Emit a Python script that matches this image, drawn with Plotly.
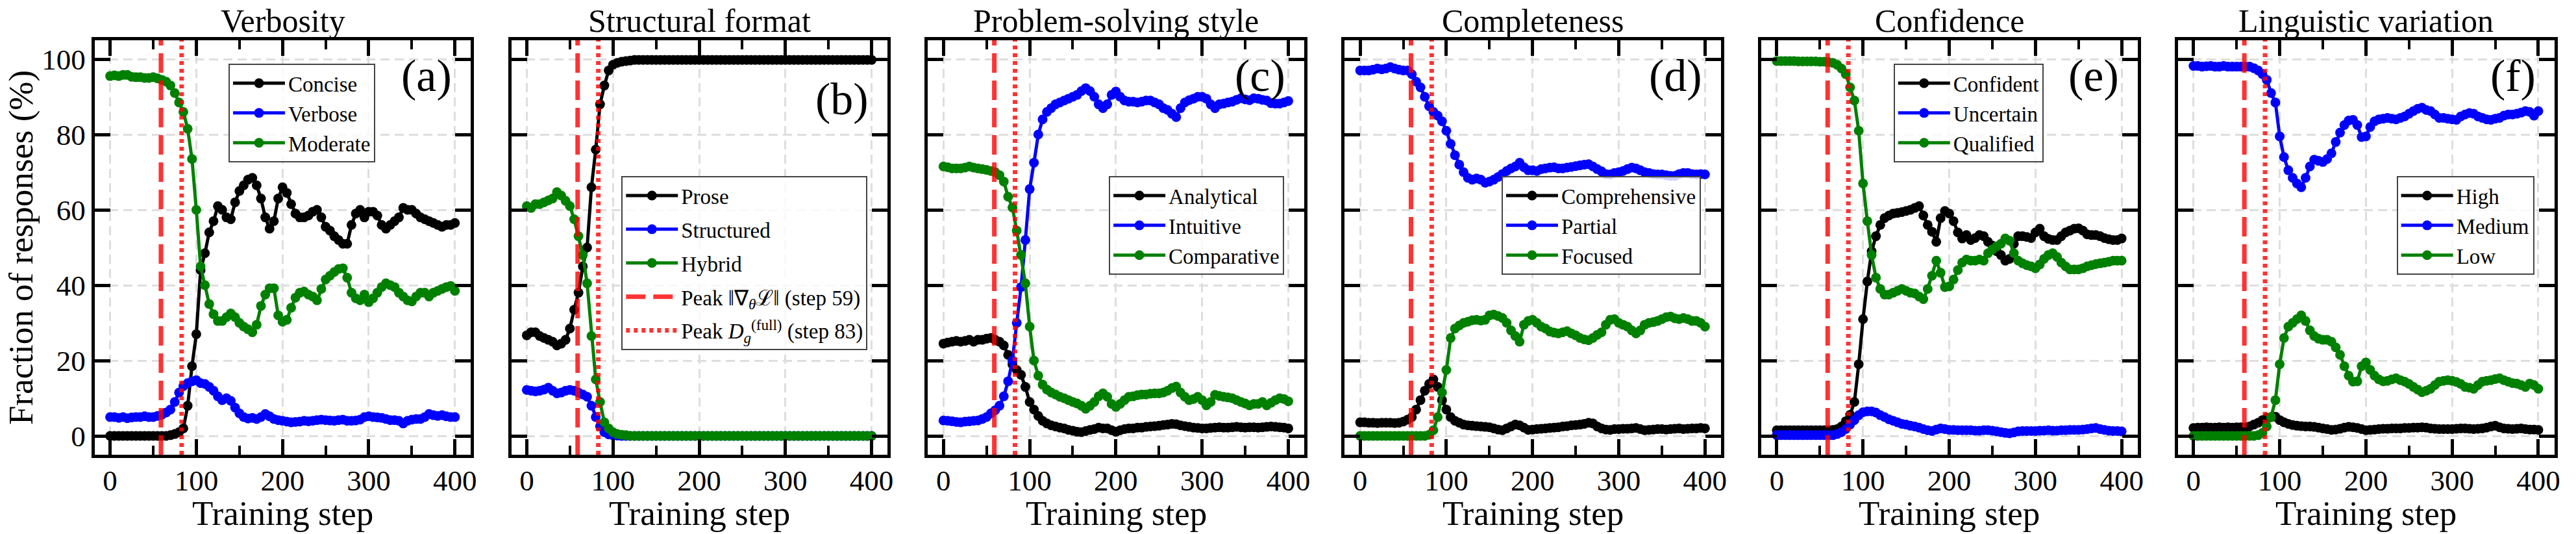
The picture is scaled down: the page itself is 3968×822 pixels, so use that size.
import plotly.graph_objects as go

# ---------------- data ----------------
STEPS = list(range(0, 401, 5))

# (a) Verbosity
CONCISE = [0, 0, 0, 0, 0, 0, 0, 0, 0, 0,
           0, 0, 0, 0, 0.2, 0.5, 1, 2, 8, 18.5,
           27, 44, 48.5, 54, 57, 61, 60, 58, 57.5, 62,
           65, 66.5, 68, 68.5, 66.5, 63, 58, 55, 57, 63,
           66, 64.5, 61.5, 59, 58, 58, 58.5, 59.5, 60, 58,
           55.5, 54.5, 53, 52, 51, 51, 56, 59, 60, 58,
           59.5, 59.5, 58.5, 56, 55, 56, 57, 58, 60.5, 60,
           60, 59, 58, 57.5, 57, 56.5, 56, 55.5, 56, 56,
           56.5]
VERBOSE = [5, 5, 4.8, 5, 4.7, 4.9, 5, 5, 5.2, 5,
           5, 5.3, 5.6, 6.2, 7, 9, 11.5, 13.2, 14, 14.5,
           14.8, 14, 13.8, 13, 12, 10.5, 9.5, 10, 9.3, 7.5,
           6, 5, 4.6, 4.8, 4.5, 5, 5.8, 5.2, 4.5, 4.2,
           4, 3.8, 3.6, 3.7, 3.8, 4, 3.9, 4, 4.2, 4.3,
           4.2, 4.1, 4, 4.2, 4.3, 4, 4, 4.1, 4.3, 5,
           5.2, 5, 4.9, 4.8, 4.5, 4.2, 4.2, 4, 3.3, 4,
           4.3, 4.5, 4.5, 5, 5.8, 5.5, 5.3, 5.5, 5.2, 5,
           5]
MODERATE = [95.5, 95.7, 95.5, 95.8, 95.8, 95.3, 95.2, 95.2, 95, 95,
            95.2, 94.9, 94.5, 94, 93, 91, 88.5, 86, 81.5, 73.5,
            60, 45, 40, 35, 32.3, 30.5, 30.5, 31.5, 32.5, 31.5,
            30, 29, 28.3, 27.5, 29.5, 34.5, 37.5, 39.2, 39.2, 32,
            30.3, 30.8, 34, 36.7, 38, 38.3, 37.5, 37, 36, 39,
            41.5, 42.5, 43.5, 44.3, 44.5, 42, 38, 36.5, 36, 37.5,
            35.5, 36.5, 38, 39.5, 40.5, 40, 39.5, 38, 37, 36,
            35.7, 37, 38, 38, 37, 38, 38.5, 39, 39.5, 39.8,
            38.5]

# (b) Structural format
PROSE = [26.7, 27.5, 27.5, 26.5, 26, 25.5, 25, 24, 24.5, 25.5,
         28.5, 33.5, 38, 45, 50, 66, 76, 88, 93, 97,
         98.5, 99, 99.3, 99.5, 99.6] + [99.8] * 56
STRUCTURED = [12.2, 12, 11.8, 12, 12.3, 12.8, 12, 11.3, 11.5, 12,
              12.2, 12, 11.5, 11, 10.4, 8, 5, 2.5, 1, 0.4,
              0.2, 0.1] + [0] * 59
HYBRID = [61, 60.5, 61.5, 61.5, 62, 62.5, 63, 64.7, 63.8, 62.4,
          61, 57.5, 53, 48, 40.5, 26.5, 15, 9, 3.6, 2,
          1, 0.5, 0.3, 0.2] + [0] * 57

# (c) Problem-solving style
ANALYTICAL = [24.5, 24.8, 25, 25.2, 25, 25.2, 25.5, 25, 25.5, 25.5,
              25.8, 26, 25.5, 25, 24, 21.5, 19, 17.5, 16.2, 13,
              9, 7, 5.3, 4, 3.3, 2.8, 2.5, 2.2, 2, 1.6,
              1.4, 1.1, 1, 1.3, 1.6, 1.8, 2.2, 2, 2, 1.5,
              1.1, 1.5, 1.8, 2, 2, 2.2, 2.2, 2.4, 2.5, 2.6,
              2.7, 2.9, 3, 3.2, 3.1, 2.8, 2.6, 2.4, 2.2, 2.1,
              2, 2, 2.1, 2.2, 2.3, 2.2, 2.2, 2.3, 2.4, 2.3,
              2.2, 2.3, 2.3, 2.2, 2.3, 2.4, 2.5, 2.4, 2.3, 2.2,
              2]
INTUITIVE = [4.1, 4, 3.9, 3.7, 3.6, 3.8, 3.9, 4, 4.1, 4.5,
             5, 6, 6.8, 8, 10.5, 14.5, 20, 30, 39.5, 52,
             65.5, 72.5, 80, 84, 86, 87, 88, 88.5, 89, 89.5,
             90, 90.5, 91.5, 92.3, 91.5, 90, 88, 87, 88, 90.5,
             91.4, 90, 89, 88.7, 88.7, 88.5, 88.7, 89, 89, 88.5,
             88, 87, 86.5, 85.5, 84.6, 87, 88.5, 89.1, 89.5, 90,
             90, 89.5, 88, 87, 88, 88.2, 88.5, 88.7, 89.2, 89.6,
             89.3, 89.1, 89.6, 89.5, 89.2, 89, 88.3, 88.2, 88.2, 88.5,
             88.9]
COMPARATIVE = [71.5, 71.3, 71, 71, 71, 71.2, 71.5, 71.2, 71, 70.8,
               70.6, 70.3, 70, 69.2, 67.5, 63.5, 60.6, 54.5, 48, 40.5,
               29, 20, 16, 13.6, 12.3, 11.5, 11, 10.4, 10, 9.5,
               9, 8.6, 8, 7.2, 8, 9, 10.5, 11.3, 10.4, 8.5,
               7.7, 8.5, 9.5, 10.4, 10.5, 10.8, 11, 11, 11.2, 11.3,
               11.3, 11.5, 12, 12.7, 13.1, 11.5, 10.4, 9.5, 9.8, 10.4,
               9.5, 8.1, 9, 10.9, 10.6, 10.4, 10.2, 10, 9.5, 9,
               8.6, 8.1, 8.5, 8.5, 9, 8.1, 8.8, 9.5, 10, 9.8,
               9.2]

# (d) Completeness
COMPREHENSIVE = [3.6, 3.6, 3.5, 3.5, 3.4, 3.5, 3.5, 3.5, 3.4, 3.5,
                 3.8, 4.3, 5, 7, 9.5, 12, 13.8, 15, 13, 9.5,
                 7, 5, 4, 3.5, 3, 2.8, 2.7, 2.6, 2.5, 2.4,
                 2.3, 2, 1.7, 1.5, 2, 2.5, 3, 2.8, 2.2, 1.6,
                 1.7, 1.8, 1.9, 2, 2.1, 2.2, 2.3, 2.5, 2.6, 2.8,
                 2.9, 3, 3.2, 3.5, 3.3, 2.5, 2, 1.7, 1.6, 1.8,
                 1.8, 1.9, 1.9, 2, 2.1, 1.8, 1.5, 1.6, 1.7, 1.8,
                 1.8, 1.7, 1.8, 1.9, 2, 1.8, 1.9, 2, 2, 2.1,
                 2]
PARTIAL = [97, 97, 97, 97.2, 97.5, 97.3, 97.5, 97.9, 97.5, 97.2,
           97, 97, 96, 94, 92.5, 90, 87.5, 86, 85, 83.5,
           81, 77.5, 74.5, 72, 70, 68.5, 68, 68.3, 68, 67.2,
           67.5, 68, 68.7, 69.5, 70.3, 71, 71.5, 72.5, 71.3, 70.5,
           70.5, 70.3, 70.8, 71, 71.2, 71.3, 71, 71, 71.2, 71.4,
           71.6, 71.8, 72, 72.1, 71.5, 70.8, 70.2, 69.5, 69.4, 69.8,
           70, 70.3, 70.8, 71.2, 71, 70.5, 70, 69.8, 69.5, 69.4,
           69.4, 69.2, 69, 69, 69.5, 69.8, 69.8, 69.5, 69.4, 69.5,
           69.4]
FOCUSED = [0] * 16 + [0.3, 1.5, 5, 11.5,
                      17.5, 26, 28.5, 29.3, 30, 30.3, 30.7, 30.8, 30.6, 30.8,
                      32, 32.2, 31.8, 31.3, 30, 28, 26.5, 25, 29.5, 30.5,
                      30.8, 30, 29, 28.5, 27.7, 27.4, 27.2, 27.5, 27.8, 27.2,
                      26.7, 26, 25.6, 25.4, 26, 26.8, 27.5, 29.5, 30.8, 31,
                      30, 29.5, 29, 28, 27.2, 28, 29.5, 30, 30.2, 30.5,
                      31, 31.5, 31.7, 31.2, 31, 31.3, 31, 30.5, 30.5, 30,
                      29]

# (e) Confidence
CONFIDENT = [1.5] * 13 + [1.6, 1.8, 2.5, 3.9, 5.6, 9, 19,
                          31, 41, 49, 53, 56, 57.8, 58.5, 59, 59.2, 59.4,
                          59.7, 60, 60.5, 61, 58.5, 56, 54.2, 51.5, 57.8, 59.7,
                          59, 57, 54, 52.4, 53.3, 52, 52.5, 53.3, 53, 51.5,
                          50.5, 49, 48, 46.5, 47, 51, 53, 53, 52.8, 52.5,
                          54, 55, 53, 52.3, 52, 52, 53, 54, 54.5, 55,
                          55.1, 54.5, 53.5, 53.3, 53.3, 53, 52.5, 52.2, 52, 52,
                          52.4]
UNCERTAIN = [0.2] * 14 + [0.5, 1, 1.8, 3, 4.2, 5.5,
                          6.3, 6.5, 6.5, 6.2, 5.5, 5, 4.4, 4, 3.6, 3.2,
                          3, 2.7, 2.5, 2.2, 1.8, 1.5, 1.3, 1.7, 2, 1.8,
                          1.6, 1.6, 1.5, 1.5, 1.5, 1.5, 1.4, 1.4, 1.5, 1.5,
                          1.4, 1.2, 1, 0.8, 0.7, 0.9, 1.2, 1.3, 1.3, 1.3,
                          1.3, 1.4, 1.4, 1.5, 1.4, 1.4, 1.5, 1.5, 1.6, 1.6,
                          1.6, 1.7, 1.8, 2, 2.1, 1.8, 1.6, 1.4, 1.3, 1.3,
                          1.2]
QUALIFIED = [99.5, 99.5, 99.5, 99.5, 99.5, 99.4, 99.4, 99.4, 99.4, 99.4,
             99.3, 99.3, 99.2, 99, 98.5, 97.5, 96, 92.5, 89, 81,
             67, 57, 48, 42, 39, 37.5, 37.5, 38, 38.5, 39,
             38.5, 38, 37.8, 37, 36.3, 39, 42.5, 46.5, 43.3, 39.5,
             39.7, 41.5, 44, 46, 46.8, 46.5, 46.5, 46.8, 46.5, 48.5,
             49.5, 50.3, 51, 52.4, 51.8, 48.5, 46.5, 45.8, 45.3, 45,
             44.5, 45.5, 47, 48, 48.5, 47.5, 46, 45, 44.2, 44.2,
             44.2, 44.5, 45, 45.3, 45.6, 45.8, 46, 46.2, 46.5, 46.5,
             46.5]

# (f) Linguistic variation
HIGH = [2.1, 2.2, 2.2, 2.3, 2.2, 2.2, 2.3, 2.2, 2.3, 2.2,
        2.3, 2.3, 2.3, 2.5, 3, 3.5, 4.2, 4.8, 5, 5.1,
        4.2, 3.6, 3.2, 2.9, 2.7, 2.6, 2.5, 2.5, 2.4, 2.2,
        2, 1.8, 1.6, 1.7, 1.9, 2.2, 2.4, 2.3, 2.1, 1.8,
        1.5, 1.6, 1.7, 1.8, 1.9, 1.9, 2, 2, 2, 2.1,
        2.1, 2.2, 2.2, 2.3, 2.2, 2, 1.9, 1.8, 1.8, 1.8,
        1.8, 1.9, 2, 2, 1.9, 1.8, 1.9, 2, 2.2, 2.5,
        2.7, 2.3, 2, 1.9, 1.8, 1.9, 2, 1.8, 1.7, 1.7,
        1.6]
MEDIUM = [98.2, 98.2, 98, 98.1, 98.2, 98, 98, 98.2, 98, 98,
          98, 98, 98, 98, 97.6, 97, 96, 94.5, 91, 88.5,
          79.5, 74, 70.5, 68.5, 67, 66, 68.5, 71.5, 73.3, 73,
          72.7, 73.5, 75, 78, 80.5, 82.5, 83.7, 83.9, 82.5, 79.3,
          79.5, 82, 83.5, 84, 84.2, 84.4, 84.2, 84, 84.4, 84.8,
          85.5, 86.2, 86.8, 87.1, 86.5, 86.2, 85.3, 84.4, 84.4, 84.2,
          84, 83.9, 84.8, 85.3, 85.7, 85.5, 84.8, 84.4, 84, 83.9,
          84.2, 84.4, 85, 85.3, 85.3, 85.5, 85.8, 86.2, 86, 85,
          86.2]
LOW = [0] * 15 + [0.2, 0.8, 2.5, 5, 9.5,
                  19, 26, 29, 30, 31, 32, 30.5, 28, 26.5, 25.8,
                  25.5, 25.5, 25, 23.5, 21.5, 18.5, 16, 14.4, 14.5, 18.5,
                  19.5, 17.5, 16, 15, 14.5, 14.6, 15, 15.3, 14.8, 14.4,
                  13.8, 13, 12.3, 11.6, 12, 12.5, 13.5, 14.4, 14.6, 14.8,
                  14.6, 14.3, 13.8, 13, 12.8, 12.5, 13.5, 14.4, 14.6, 14.8,
                  15.1, 15.3, 14.8, 14.4, 14, 13.9, 13.5, 13, 13.9, 13.5,
                  12.5]

PEAK_GRAD_STEP = 59
PEAK_DG_STEP = 83

TITLES = ["Verbosity", "Structural format", "Problem-solving style",
          "Completeness", "Confidence", "Linguistic variation"]
LABELS = ["(a)", "(b)", "(c)", "(d)", "(e)", "(f)"]
SERIES_NAMES = [["Concise", "Verbose", "Moderate"],
                ["Prose", "Structured", "Hybrid"],
                ["Analytical", "Intuitive", "Comparative"],
                ["Comprehensive", "Partial", "Focused"],
                ["Confident", "Uncertain", "Qualified"],
                ["High", "Medium", "Low"]]
SERIES_VALUES = [[CONCISE, VERBOSE, MODERATE],
                 [PROSE, STRUCTURED, HYBRID],
                 [ANALYTICAL, INTUITIVE, COMPARATIVE],
                 [COMPREHENSIVE, PARTIAL, FOCUSED],
                 [CONFIDENT, UNCERTAIN, QUALIFIED],
                 [HIGH, MEDIUM, LOW]]
X_TICKS = [0, 100, 200, 300, 400]
X_MINOR_TICKS = [50, 150, 250, 350]
Y_TICKS = [0, 20, 40, 60, 80, 100]

for vals in SERIES_VALUES:
    for v in vals:
        assert len(v) == len(STEPS), len(v)

# ---------------- style ----------------
W, H = 3968, 822
FONT = "Liberation Serif, Times New Roman, serif"
COLORS = ["#000000", "#0000ff", "#008000"]
RED = "rgba(255,0,0,0.8)"
X_RANGE = [-18, 418.5]
Y_RANGE = [-5, 105]
PANEL_LEFT0 = 146
PANEL_STEP = 643.3
PANEL_W = 581
TOP_PX, BOT_PX = 62, 700

fig = go.Figure()
layout = dict(width=W, height=H, margin=dict(l=0, r=0, t=0, b=0),
              paper_bgcolor="white", plot_bgcolor="white",
              font=dict(family=FONT, color="black"), annotations=[])

for i in range(6):
    k = "" if i == 0 else str(i + 1)
    left = PANEL_LEFT0 + PANEL_STEP * i
    right = left + PANEL_W
    xa, ya = "x" + k, "y" + k
    legname = "legend" + k
    for j, (name, vals, col) in enumerate(zip(SERIES_NAMES[i], SERIES_VALUES[i], COLORS)):
        fig.add_trace(go.Scatter(
            x=STEPS, y=vals, name=name, mode="lines+markers",
            line=dict(color=col, width=5),
            marker=dict(color=col, size=15, line=dict(width=0)),
            xaxis=xa, yaxis=ya, legend=legname, legendgroup="g%d_%d" % (i, j),
            showlegend=True))
    fig.add_trace(go.Scatter(
        x=[PEAK_GRAD_STEP, PEAK_GRAD_STEP], y=Y_RANGE, mode="lines",
        name="Peak ‖∇<sub><i>θ</i></sub>ℒ‖ (step %d)" % PEAK_GRAD_STEP,
        line=dict(color=RED, width=7, dash="30px,12px"),
        xaxis=xa, yaxis=ya, legend=legname, legendgroup="g%d_3" % i,
        showlegend=(i == 1)))
    fig.add_trace(go.Scatter(
        x=[PEAK_DG_STEP, PEAK_DG_STEP], y=Y_RANGE, mode="lines",
        name="Peak <i>D</i><sub><i>g</i></sub><sup>(full)</sup> (step %d)" % PEAK_DG_STEP,
        line=dict(color=RED, width=7, dash="6px,6px"),
        xaxis=xa, yaxis=ya, legend=legname, legendgroup="g%d_4" % i,
        showlegend=(i == 1)))

    common = dict(showline=True, linewidth=5, linecolor="black", mirror="allticks",
                  ticks="inside", ticklen=24, tickwidth=5, tickcolor="black",
                  showgrid=True, gridcolor="#dedede", gridwidth=3, griddash="14px,8px",
                  zeroline=False, tickfont=dict(family=FONT, size=45, color="black"))
    layout["xaxis" + k] = dict(
        domain=[left / W, right / W], anchor=ya, range=X_RANGE,
        tickmode="array", tickvals=X_TICKS, ticklabelstandoff=-4,
        minor=dict(tickvals=X_MINOR_TICKS, ticks="inside", ticklen=14,
                   tickwidth=4, tickcolor="black", showgrid=False),
        **common)
    layout["yaxis" + k] = dict(
        domain=[1 - BOT_PX / H, 1 - TOP_PX / H], anchor=xa, range=Y_RANGE,
        tickmode="array", tickvals=Y_TICKS, showticklabels=(i == 0),
        **common)

    cx = (left + right) / 2 / W
    layout["annotations"].append(dict(
        text=TITLES[i], x=cx, y=1 - 32 / H, xref="paper", yref="paper",
        xanchor="center", yanchor="middle", showarrow=False,
        font=dict(family=FONT, size=50, color="black")))
    layout["annotations"].append(dict(
        text="Training step", x=cx, y=1 - 790 / H, xref="paper", yref="paper",
        xanchor="center", yanchor="middle", showarrow=False,
        font=dict(family=FONT, size=53, color="black")))
    ly = 152 if i == 1 else 116
    layout["annotations"].append(dict(
        text=LABELS[i], x=(right - 27) / W, y=1 - ly / H, xref="paper", yref="paper",
        xanchor="right", yanchor="middle", showarrow=False,
        font=dict(family=FONT, size=70, color="black")))

    leg = dict(font=dict(family=FONT, size=33, color="black"),
               bgcolor="rgba(255,255,255,0.8)", bordercolor="#444444", borderwidth=2,
               xref="paper", yref="paper", yanchor="top", itemwidth=80,
               traceorder="grouped", tracegroupgap=(6 if i == 1 else 0))
    if i in (0, 4):
        leg.update(x=(left + 320) / W, xanchor="center", y=1 - 98 / H)
    else:
        leg.update(x=(right - 31) / W, xanchor="right", y=1 - 271 / H)
    layout[legname] = leg

layout["annotations"].append(dict(
    text="Fraction of responses (%)", x=33 / W, y=1 - 381 / H, xref="paper", yref="paper",
    xanchor="center", yanchor="middle", textangle=-90, showarrow=False,
    font=dict(family=FONT, size=53, color="black")))

fig.update_layout(**layout)
fig.write_html("out.html")
